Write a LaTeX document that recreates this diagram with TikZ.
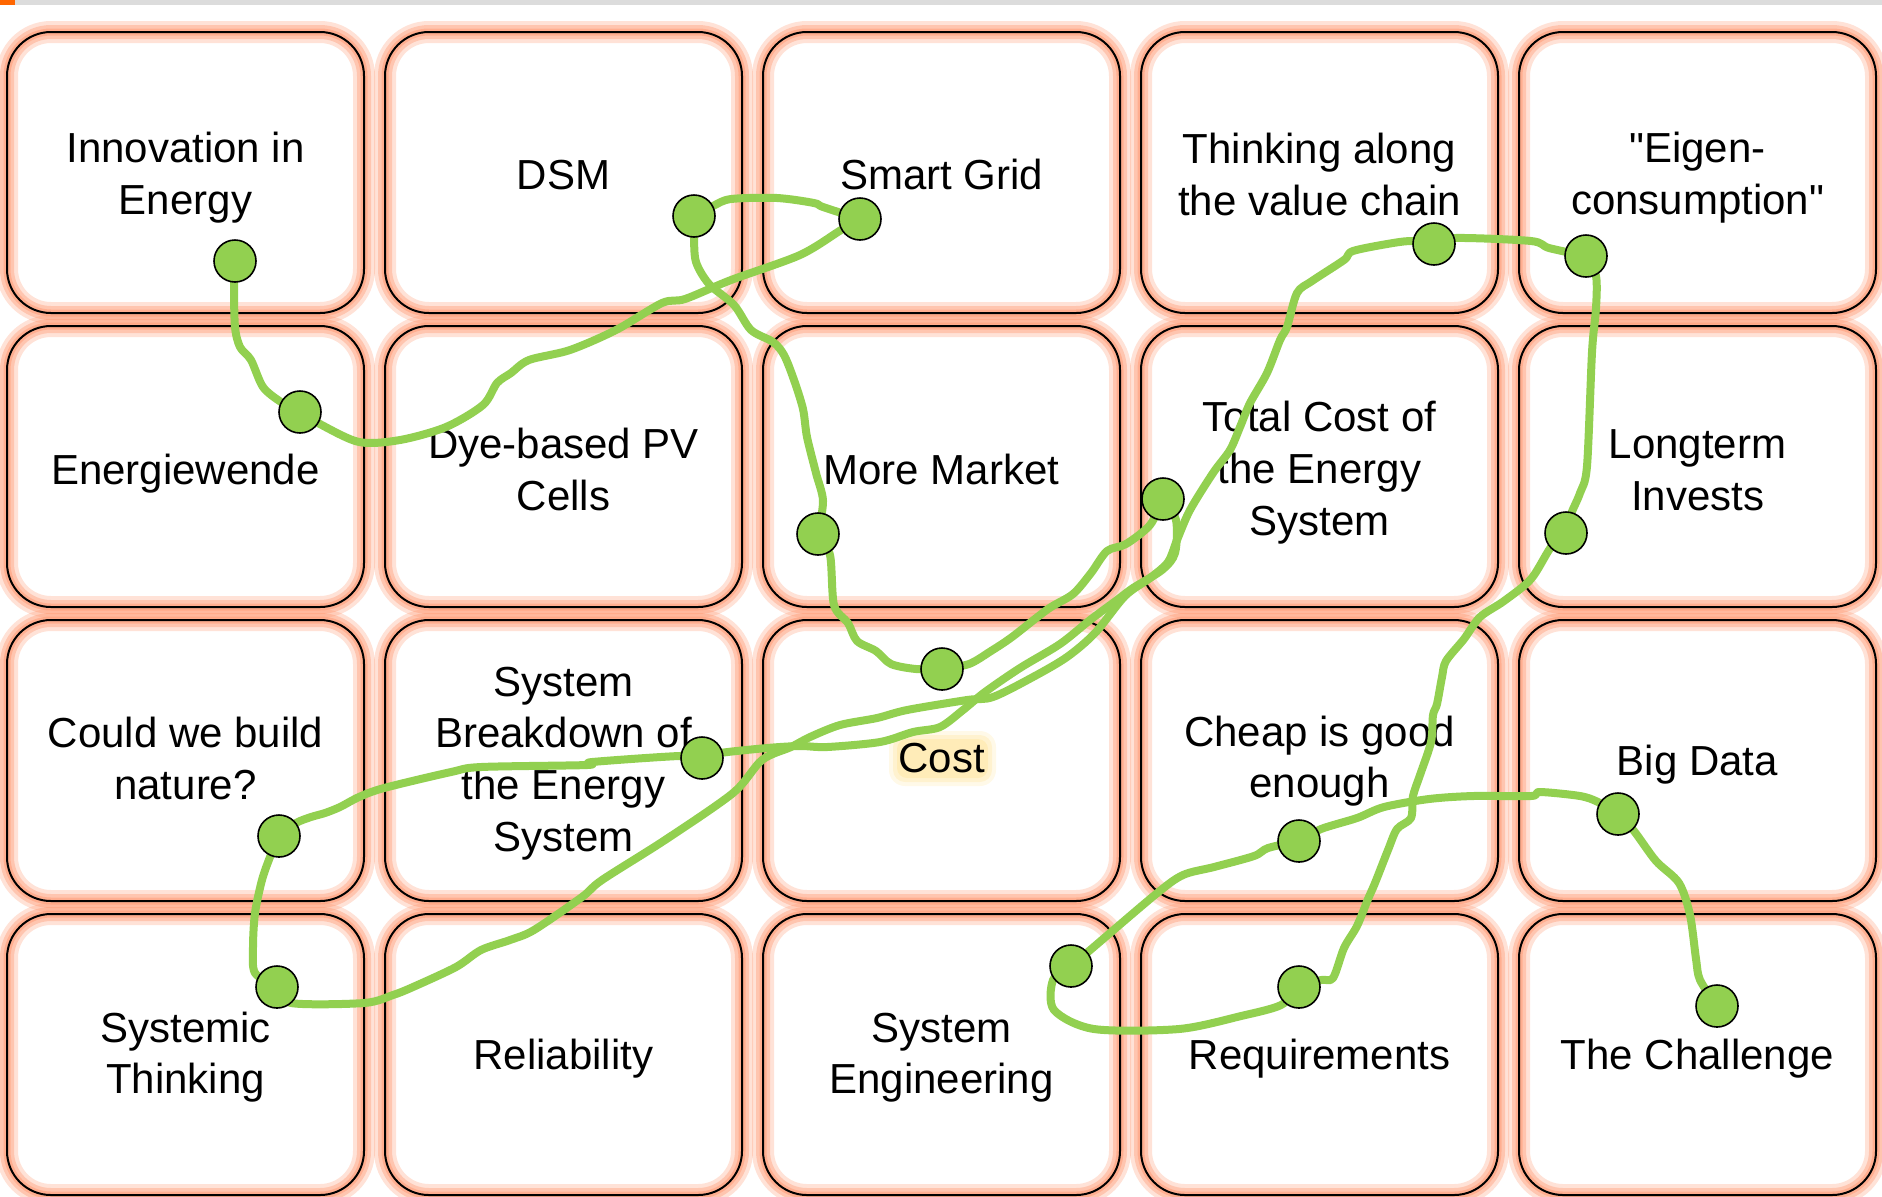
\documentclass[tikz,border=0pt]{standalone}
\usepackage{fontspec}
\setmainfont{Liberation Sans}
\newfontfamily\qfont{Liberation Sans}
\definecolor{glowc}{RGB}{255,150,110}
\definecolor{dotgreen}{RGB}{146,208,80}
\definecolor{costglow}{RGB}{255,222,130}
\definecolor{topbar}{RGB}{220,220,220}
\definecolor{toporange}{RGB}{255,102,0}
\newcommand{\boxfont}{\fontsize{21pt}{25.85pt}\selectfont}
\newcommand{\ls}[1][0pt]{\rule[-0.212em]{0pt}{\dimexpr1.117em+#1\relax}}
\newcommand{\sq}{{\qfont"}}
\tikzset{
  card/.style={rounded corners=22pt, minimum width=178.5pt, minimum height=140.5pt,
    draw=black, line width=1pt, align=center, font=\boxfont, inner sep=0pt,
    preaction={draw=glowc, line width=11pt, opacity=0.28},
    preaction={draw=glowc, line width=7pt, opacity=0.38},
    preaction={draw=glowc, line width=3.5pt, opacity=0.48}},
  gdot/.style={circle, fill=dotgreen, draw=black, line width=0.8pt, minimum size=21pt, inner sep=0pt},
  gline/.style={draw=dotgreen, line width=4pt, line cap=round, line join=round},
  plain/.style={align=center, font=\boxfont, inner sep=0pt}
}
\begin{document}
\begin{tikzpicture}[x=0.5pt,y=-0.5pt]
\useasboundingbox (0,0) rectangle (1882,1196);
\fill[topbar] (0,0) rectangle (1882,5);
\fill[toporange] (0,0) rectangle (15,5);
% cards
\node[card] (c11) at (185.5,172.5) {\ls[1.5pt]Innovation in\\Energy\ls};
\node[card] (c12) at (563.5,172.5) {\ls[2pt]DSM\ls};
\node[card] (c13) at (941.5,172.5) {\ls[2pt]Smart Grid\ls};
\node[card] (c14) at (1319.5,172.5) {\ls[2.5pt]Thinking along\\the value chain\ls};
\node[card] (c15) at (1697.5,172.5) {\ls[1.5pt]\sq Eigen-\\consumption\sq\ls};
\node[card] (c21) at (185.5,466.5) {\ls[3pt]Energiewende\ls};
\node[card] (c22) at (563.5,466.5) {\ls[3.5pt]Dye-based PV\\Cells\ls};
\node[card] (c23) at (941.5,466.5) {\ls[3pt]More Market\ls};
\node[card] (c24) at (1319.5,466.5) {\ls[2.5pt]Total Cost of\\the Energy\\System\ls};
\node[card] (c25) at (1697.5,466.5) {\ls[3.5pt]Longterm\\Invests\ls};
\node[card] (c31) at (185.5,760.5) {\ls[-1.5pt]Could we build\\nature?\ls};
\node[card] (c32) at (563.5,760.5) {\ls[-1.5pt]System\\Breakdown of\\the Energy\\System\ls};
\node[card] (c33) at (941.5,760.5) {};
\node[card] (c34) at (1319.5,760.5) {\ls[-3pt]Cheap is good\\enough\ls};
\node[card] (c35) at (1697.5,760.5) {\ls[-2.5pt]Big Data\ls};
\node[card] (c41) at (185.5,1054.5) {\ls[-1pt]Systemic\\Thinking\ls};
\node[card] (c42) at (563.5,1054.5) {\ls[0pt]Reliability\ls};
\node[card] (c43) at (941.5,1054.5) {\ls[-1pt]System\\Engineering\ls};
\node[card] (c44) at (1319.5,1054.5) {\ls[0pt]Requirements\ls};
\node[card] (c45) at (1697.5,1054.5) {\ls[0pt]The Challenge\ls};
% Cost label with soft glow
\fill[costglow, opacity=0.18, rounded corners=8pt] (889,731) rectangle (996,786);
\fill[costglow, opacity=0.25, rounded corners=6pt] (893,735) rectangle (992,782);
\fill[costglow, opacity=0.3, rounded corners=5pt] (897,739) rectangle (988,778);
\node[plain] (costlbl) at (941.5,758) {\ls Cost\ls};
% dot positions
\coordinate (p1) at (235,261);
\coordinate (p2) at (300,412);
\coordinate (p3) at (860,219);
\coordinate (p4) at (694,216);
\coordinate (p5) at (818,534);
\coordinate (p6) at (942,669);
\coordinate (p7) at (1163,499);
\coordinate (p8) at (702,758);
\coordinate (p9) at (279,836);
\coordinate (p10) at (277,987);
\coordinate (p11) at (1434,244);
\coordinate (p12) at (1586,256);
\coordinate (p13) at (1566,533);
\coordinate (p14) at (1299,987);
\coordinate (p15) at (1071,966);
\coordinate (p16) at (1299,841);
\coordinate (p17) at (1618,814);
\coordinate (p18) at (1717,1006);
% the hand-drawn line
\draw[gline] plot[smooth, tension=0.5] coordinates {(p1) (234,285) (235,327) (240,347) (251,360) (263,387) (281,402) (p2)};
\draw[gline] plot[smooth, tension=0.5] coordinates {(p2) (318,423) (359,442) (400,440) (446,427) (483,405) (497,383) (511,373) (529,360) (570,350) (616,330) (662,303) (685,299) (731,280) (800,255) (841,230) (p3)};
\draw[gline] plot[smooth, tension=0.5] coordinates {(p3) (823,207) (814,203) (777,198) (731,199) (713,206) (p4)};
\draw[gline] plot[smooth, tension=0.5] coordinates {(p4) (694,237) (696,262) (709,284) (734,305) (751,330) (773,342) (784,355) (794,380) (803,409) (807,437) (816,473) (823,501) (p5)};
\draw[gline] plot[smooth, tension=0.5] coordinates {(p5) (830,555) (834,605) (848,623) (857,641) (876,651) (891,664) (916,669) (p6)};
\draw[gline] plot[smooth, tension=0.5] coordinates {(p6) (969,664) (991,651) (1012,637) (1048,609) (1073,594) (1091,573) (1107,551) (1126,544) (1150,525) (p7)};
\draw[gline] plot[smooth, tension=0.5] coordinates {(p7) (1176,520) (1175,553) (1162,570) (1133,588) (1117,600) (1090,620) (1060,644) (1020,668) (985,692) (963,710) (940,727) (913,732) (880,742) (827,747) (800,746) (767,748) (720,753) (p8)};
\draw[gline] plot[smooth, tension=0.5] coordinates {(p8) (679,756) (592,762) (587,765) (481,767) (451,772) (384,788) (359,797) (340,807) (325,813) (311,817) (296,823) (p9)};
\draw[gline] plot[smooth, tension=0.5] coordinates {(p9) (270,857) (262,880) (255,913) (253,947) (255,973) (p10)};
\draw[gline] plot[smooth, tension=0.5] coordinates {(p10) (291,1003) (364,1003) (393,995) (413,987) (456,967) (481,950) (510,940) (534,930) (582,897) (602,880) (665,840) (733,793) (762,760) (791,747) (810,737) (840,725) (877,718) (907,710) (967,700) (993,697) (1033,677) (1067,657) (1095,633) (1125,596) (1150,578) (1168,562) (1177,540) (1190,510) (1213,473) (1230,450) (1240,427) (1250,403) (1267,373) (1280,340) (1287,327) (1297,293) (1312,281) (1344,260) (1353,251) (1393,243) (1413,241) (p11)};
\draw[gline] plot[smooth, tension=0.5] coordinates {(p11) (1455,238) (1531,241) (1549,248) (p12)};
\draw[gline] plot[smooth, tension=0.5] coordinates {(p12) (1596,276) (1596,308) (1592,352) (1587,466) (1580,493) (1571,514) (p13)};
\draw[gline] plot[smooth, tension=0.5] coordinates {(p13) (1551,547) (1531,579) (1504,601) (1480,617) (1464,639) (1446,661) (1442,677) (1437,704) (1433,715) (1431,742) (1420,775) (1413,796) (1411,818) (1397,829) (1388,850) (1375,883) (1368,899) (1357,926) (1344,948) (1333,978) (1321,980) (p14)};
\draw[gline] plot[smooth, tension=0.5] coordinates {(p14) (1281,1005) (1241,1016) (1179,1029) (1094,1029) (1054,1010) (1053,980) (p15)};
\draw[gline] plot[smooth, tension=0.5] coordinates {(p15) (1089,951) (1156,894) (1183,875) (1214,867) (1254,856) (1268,848) (p16)};
\draw[gline] plot[smooth, tension=0.5] coordinates {(p16) (1321,829) (1357,818) (1384,807) (1429,799) (1473,796) (1531,796) (1540,792) (1580,796) (1598,802) (p17)};
\draw[gline] plot[smooth, tension=0.5] coordinates {(p17) (1634,831) (1656,861) (1679,883) (1690,915) (1696,959) (1700,980) (p18)};
% dots
\foreach \i in {1,...,18} {\node[gdot] (d\i) at (p\i) {};}
\end{tikzpicture}
\end{document}
